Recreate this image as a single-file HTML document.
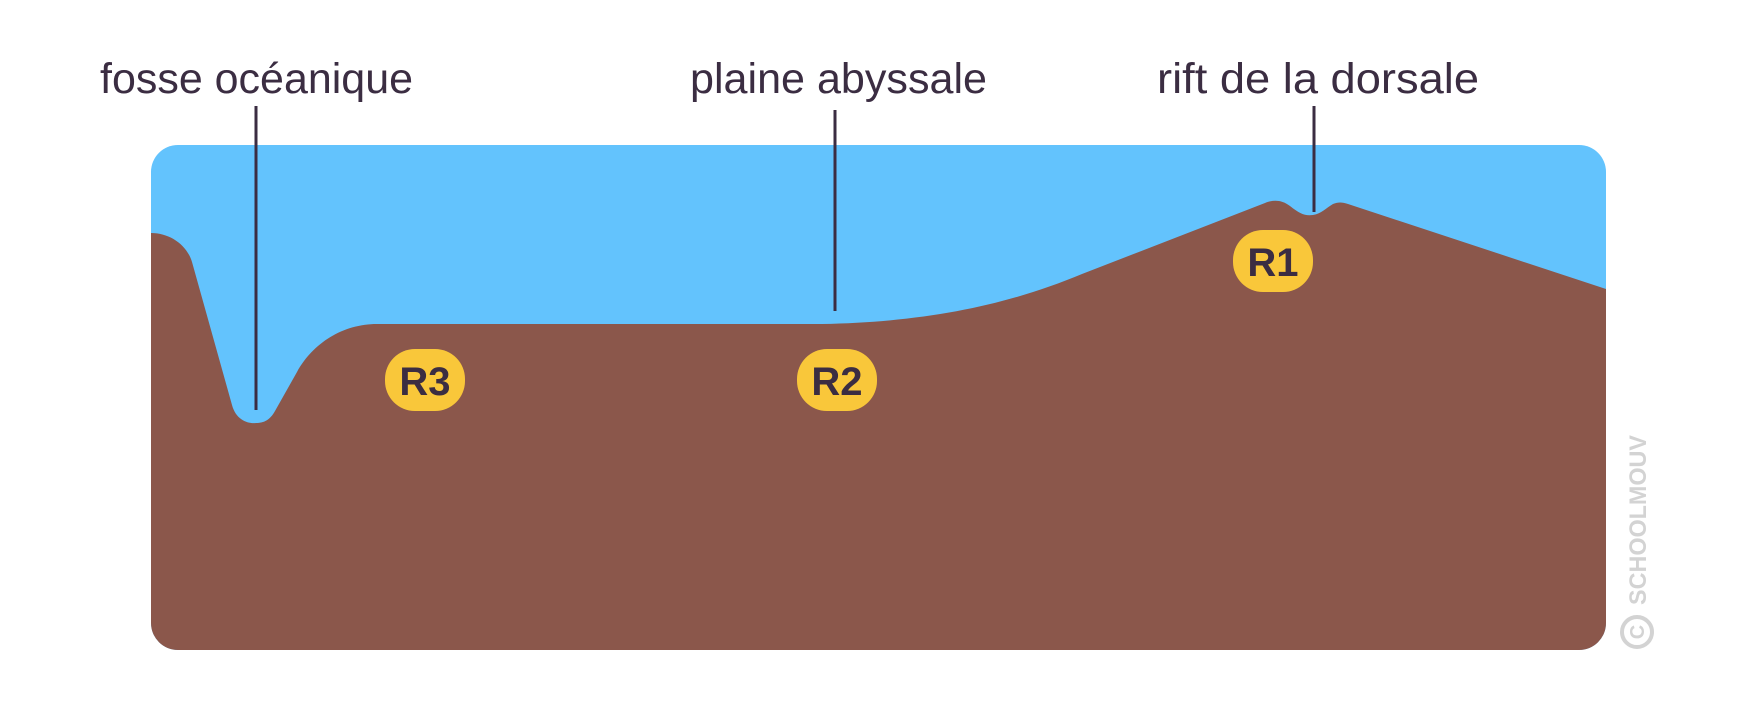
<!DOCTYPE html>
<html><head><meta charset="utf-8"><style>
html,body{margin:0;padding:0;background:#fff;width:1755px;height:710px;overflow:hidden}
</style></head><body>
<svg width="1755" height="710" viewBox="0 0 1755 710" xmlns="http://www.w3.org/2000/svg">
<defs><clipPath id="c"><rect x="151" y="145" width="1455" height="505" rx="27"/></clipPath></defs>
<g clip-path="url(#c)">
<rect x="151" y="145" width="1455" height="505" fill="#63C3FD"/>
<path d="M151,233 C170,233 187,245 192,262 L232,405 C236,420 248,424 256,423 C264,423 270,420 275,411 L297,372 C313,343 343,324 377,324 L822,324 C930,322 1010,304 1082,274 L1265,203 C1272,200 1281,199 1290,206 C1300,214 1305,216 1313,215 C1321,214 1326,208 1333,204 C1338,202 1342,202 1348,204 L1606,289 L1606,650 L151,650 Z" fill="#8B574B"/>
</g>
<g stroke="#3B2D42" stroke-width="3">
<line x1="256" y1="106" x2="256" y2="410"/>
<line x1="835" y1="110" x2="835" y2="311"/>
<line x1="1314" y1="106" x2="1314" y2="212"/>
</g>
<g font-family="Liberation Sans, sans-serif" font-size="43" fill="#3B2D42">
<text x="100" y="93" textLength="313" lengthAdjust="spacingAndGlyphs">fosse océanique</text>
<text x="690" y="93" textLength="297" lengthAdjust="spacingAndGlyphs">plaine abyssale</text>
<text x="1157" y="93" textLength="322" lengthAdjust="spacingAndGlyphs">rift de la dorsale</text>
</g>
<g fill="#F9C73A">
<rect x="385" y="349" width="80" height="62" rx="30"/>
<rect x="797" y="349" width="80" height="62" rx="30"/>
<rect x="1233" y="230" width="80" height="62" rx="30"/>
</g>
<g font-family="Liberation Sans, sans-serif" font-size="40" font-weight="bold" fill="#3B2D42" text-anchor="middle">
<text x="425" y="395">R3</text>
<text x="837" y="395">R2</text>
<text x="1273" y="276">R1</text>
</g>
<text transform="translate(1646,605) rotate(-90)" font-family="Liberation Sans, sans-serif" font-size="24" font-weight="bold" fill="#D3D3D3" textLength="170" lengthAdjust="spacingAndGlyphs">SCHOOLMOUV</text>
<circle cx="1637" cy="632" r="15" fill="none" stroke="#D3D3D3" stroke-width="4"/>
<text transform="translate(1644,632) rotate(-90)" font-family="Liberation Sans, sans-serif" font-size="20" font-weight="bold" fill="#D3D3D3" text-anchor="middle">C</text>
</svg>
</body></html>
